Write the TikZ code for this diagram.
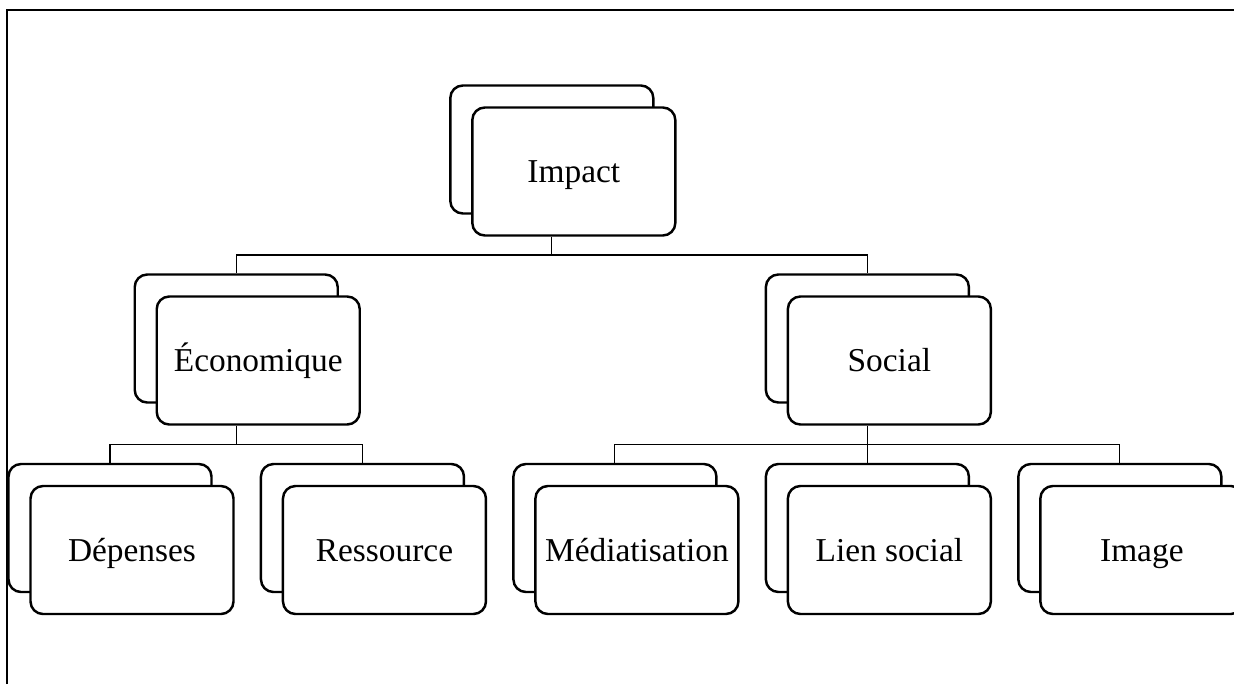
\documentclass[tikz,border=0pt]{standalone}
\usepackage{fontspec}
\setmainfont{Liberation Serif}
\usetikzlibrary{positioning, calc}

\begin{document}
\begin{tikzpicture}[font=\fontsize{19}{23}\selectfont,
    card/.style={draw, line width=1.4pt, rounded corners=0.25cm, fill=white,
      minimum width=4.06cm, minimum height=2.56cm, inner sep=2pt,
      text height=13pt, text depth=0pt},
    link/.style={line width=0.6pt}]
    \useasboundingbox (0,0) rectangle (24.68,-13.68);

    % frame (top and left only)
    \draw[line width=1.2pt] (0.14,-13.68) -- (0.14,-0.2) -- (24.68,-0.2);

    % back cards, leaves first
    \node[card] (depB) at (2.2,-10.56) {};
    \node[card, right=0.94cm of depB] (resB) {};
    \node[card, right=0.94cm of resB] (medB) {};
    \node[card, right=0.94cm of medB] (lieB) {};
    \node[card, right=0.94cm of lieB] (imgB) {};

    \node[card] (ecoB) at ([yshift=3.79cm] barycentric cs:depB=0.5,resB=0.5) {};
    \node[card] (socB) at ([yshift=3.79cm] lieB) {};
    \node[card] (impB) at ([yshift=3.78cm] barycentric cs:ecoB=0.5,socB=0.5) {};

    % front cards
    \node[card] (imp) at ([shift={(0.44,-0.44)}] impB) {Impact};
    \node[card] (eco) at ([shift={(0.44,-0.44)}] ecoB) {Économique};
    \node[card] (soc) at ([shift={(0.44,-0.44)}] socB) {Social};
    \node[card] (dep) at ([shift={(0.44,-0.44)}] depB) {Dépenses};
    \node[card] (res) at ([shift={(0.44,-0.44)}] resB) {Ressource};
    \node[card] (med) at ([shift={(0.44,-0.44)}] medB) {Médiatisation};
    \node[card] (lie) at ([shift={(0.44,-0.44)}] lieB) {Lien social};
    \node[card] (img) at ([shift={(0.44,-0.44)}] imgB) {Image};

    % tree links
    \coordinate (bar1) at ($(imp.south)!0.5!(ecoB.north)$);
    \draw[link] (impB |- imp.south) -- (impB |- bar1) -| (ecoB.north);
    \draw[link] (impB |- bar1) -| (socB.north);

    \coordinate (bar2) at ($(eco.south)!0.5!(depB.north)$);
    \draw[link] (ecoB |- eco.south) -- (ecoB |- bar2) -| (depB.north);
    \draw[link] (ecoB |- bar2) -| (resB.north);

    \draw[link] (socB |- soc.south) -- (lieB.north);
    \draw[link] (socB |- bar2) -| (medB.north);
    \draw[link] (socB |- bar2) -| (imgB.north);
\end{tikzpicture}
\end{document}
